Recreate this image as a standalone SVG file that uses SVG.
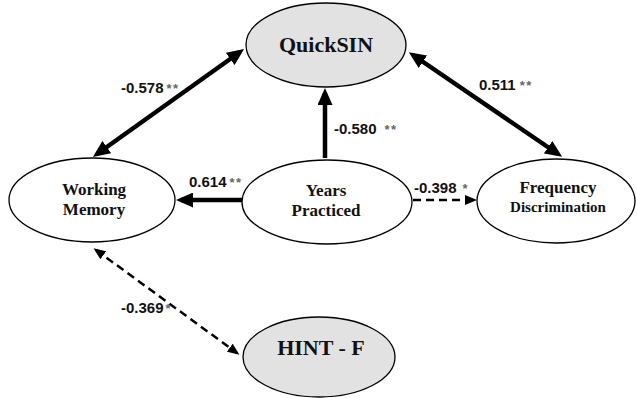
<svg xmlns="http://www.w3.org/2000/svg" width="637" height="398" viewBox="0 0 637 398">
<style>
.node{fill:#fff;stroke:#000;stroke-width:1.3}
.grey{fill:#e2e2e2}
.t{font-family:"Liberation Serif","Times New Roman",serif;font-weight:bold;fill:#111;text-anchor:middle}
.big{font-size:22px}
.mid{font-size:17px}
.lab{font-family:"Liberation Sans",Arial,sans-serif;font-weight:bold;font-size:15px;fill:#111}
.star{fill:#666;font-size:13px;letter-spacing:1.5px}
.thick{stroke:#000;stroke-width:4.5;fill:none}
.dash{stroke:#000;stroke-width:2.5;fill:none;stroke-dasharray:8,5}
</style>
<defs>
<marker id="ah" markerUnits="userSpaceOnUse" markerWidth="17" markerHeight="15" refX="12" refY="7.5" orient="auto-start-reverse"><path d="M0,0 L17,7.5 L0,15 z" fill="#000"/></marker>
<marker id="as" markerUnits="userSpaceOnUse" markerWidth="12" markerHeight="10" refX="9" refY="5" orient="auto-start-reverse"><path d="M0,0 L12,5 L0,10 z" fill="#000"/></marker>
</defs>
<g id="connectors">
<line class="thick" x1="97" y1="154" x2="240" y2="52" marker-start="url(#ah)" marker-end="url(#ah)"/>
<line class="thick" x1="413" y1="55" x2="558" y2="154" marker-start="url(#ah)" marker-end="url(#ah)"/>
<line class="thick" x1="325" y1="158" x2="325" y2="93" marker-end="url(#ah)"/>
<line class="thick" x1="242" y1="200" x2="181" y2="200" marker-end="url(#ah)"/>
<line class="dash" x1="413" y1="200" x2="474" y2="200" marker-end="url(#as)"/>
<line class="dash" x1="96" y1="250" x2="237" y2="353" marker-start="url(#as)" marker-end="url(#as)"/>
</g>
<g id="labels">
<text class="lab" x="121" y="93">-0.578<tspan class="star" dx="3">**</tspan></text>
<text class="lab" x="479" y="90">0.511<tspan class="star" dx="4">**</tspan></text>
<text class="lab" x="334" y="134">-0.580<tspan class="star" dx="8">**</tspan></text>
<text class="lab" x="189" y="187">0.614<tspan class="star" dx="3">**</tspan></text>
<text class="lab" x="414" y="193">-0.398<tspan class="star" dx="6">*</tspan></text>
<text class="lab" x="121" y="313">-0.369<tspan class="star" dx="2">*</tspan></text>
</g>
<g id="quicksin">
<ellipse class="node grey" cx="326" cy="45" rx="80" ry="42"/>
<text class="t big" x="326" y="52">QuickSIN</text>
</g>
<g id="working-memory">
<ellipse class="node" cx="92" cy="200" rx="83" ry="42"/>
<text class="t mid" x="94" y="195">Working</text>
<text class="t mid" x="94" y="215">Memory</text>
</g>
<g id="years-practiced">
<ellipse class="node" cx="327" cy="202" rx="85" ry="42"/>
<text class="t mid" x="326" y="196">Years</text>
<text class="t mid" x="326" y="216">Practiced</text>
</g>
<g id="frequency-discrimination">
<ellipse class="node" cx="556" cy="201" rx="79" ry="42"/>
<text class="t mid" x="558" y="193">Frequency</text>
<text class="t" style="font-size:15px" x="558" y="212">Discrimination</text>
</g>
<g id="hint-f">
<ellipse class="node grey" cx="319" cy="357" rx="76" ry="40"/>
<text class="t big" x="321" y="355">HINT - F</text>
</g>
</svg>
